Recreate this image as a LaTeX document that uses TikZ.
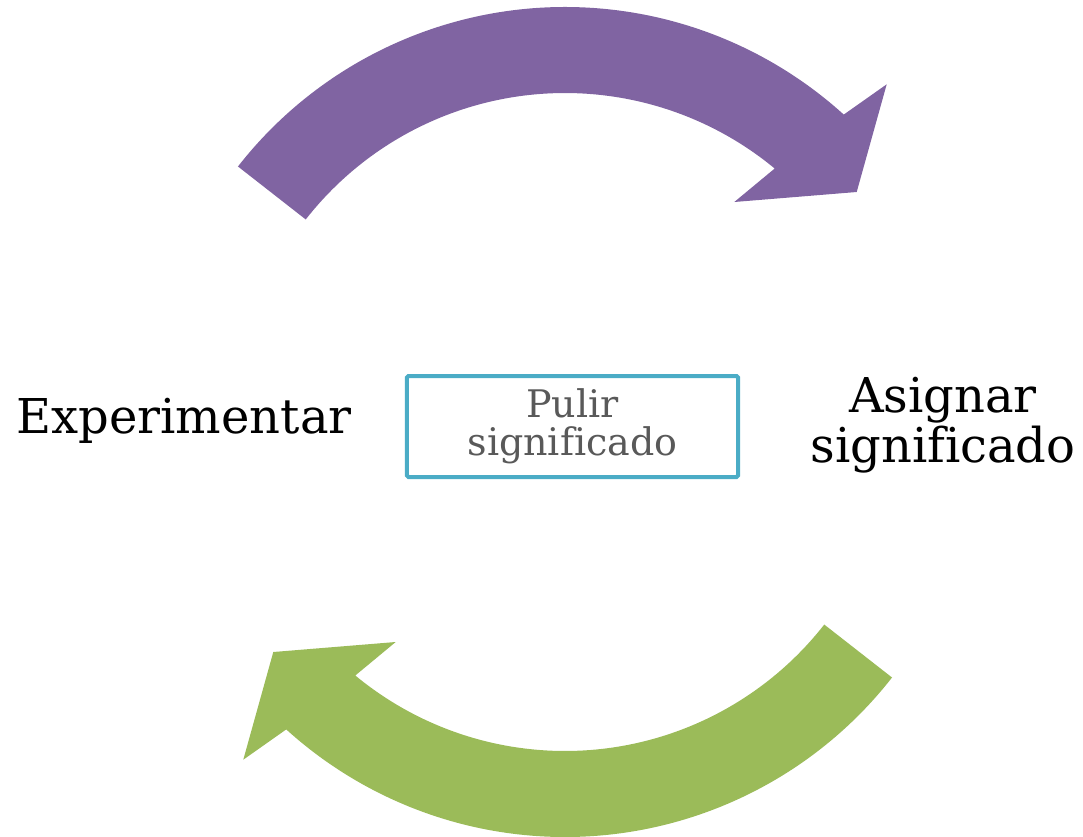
\documentclass[tikz,border=0pt]{standalone}
\usepackage{fontspec}
\setmainfont{DejaVu Serif}[Ligatures=NoCommon]
\usepackage{tikz}
\usetikzlibrary{positioning,calc}
\definecolor{cyclepurple}{HTML}{8064A2}
\definecolor{cyclegreen}{HTML}{9BBB59}
\definecolor{boxteal}{HTML}{4BACC6}
\definecolor{textgray}{HTML}{595959}
\tikzset{
  stage/.style={align=center,font=\fontsize{48}{50}\selectfont},
  centrebox/.style={draw=boxteal,line width=4pt,rounded corners=1.5pt,align=center,
    minimum width=331pt,minimum height=101pt,text=textgray,
    font=\fontsize{38}{38}\selectfont}
}
\newcommand{\cyclearrow}{%
  (142:415) arc[start angle=142,end angle=47.8,radius=415]
  -- (321.7,337.7) -- (291.7,230) -- (169.3,220)
  -- (50.4:329) arc[start angle=50.4,end angle=142,radius=329] -- cycle}

\begin{document}
\begin{tikzpicture}[x=1pt,y=1pt]
	\useasboundingbox (-565,-414) rectangle (518,422);

	\fill[cyclepurple] \cyclearrow;
	\fill[cyclegreen,rotate=180] \cyclearrow;

	\node[stage] (exp) at (-381,1) {Experimentar};
	\node[stage] (asig) at (378,-3) {Asignar\\significado};
	\node[centrebox] (pulir) at (7.5,-4.5) {Pulir\\significado};

\end{tikzpicture}
\end{document}
